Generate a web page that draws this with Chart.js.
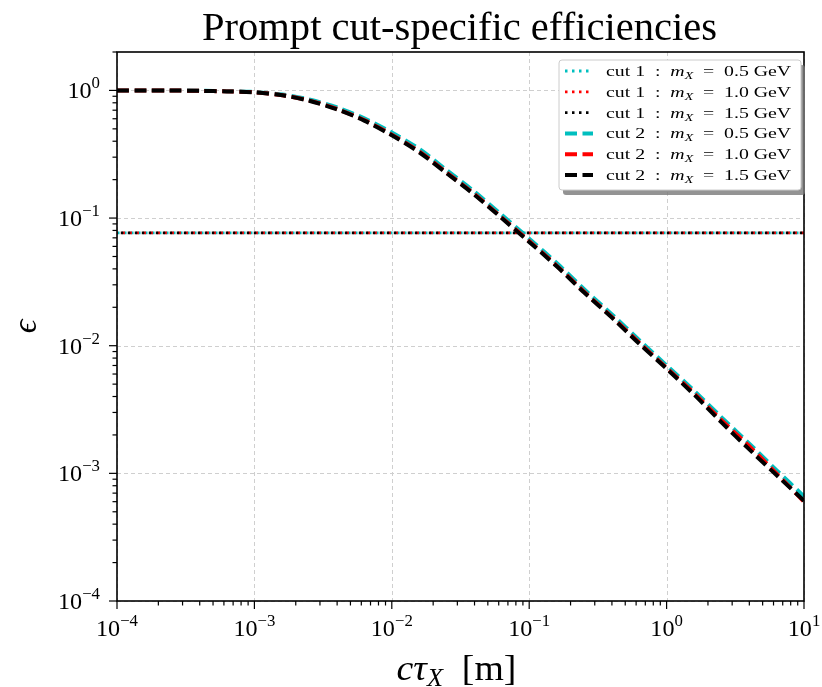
<!DOCTYPE html>
<html>
<head>
<meta charset="utf-8">
<script src="https://cdn.jsdelivr.net/npm/chart.js@4.4.0/dist/chart.umd.min.js"></script>
<style>
  html, body { margin: 0; padding: 0; background: #fff; }
  #wrap { width: 822px; height: 687px; }
</style>
</head>
<body>
<div id="wrap"><canvas id="eff" width="822" height="687"></canvas></div>
<script>
// c*tau_X in metres
const ctau = [1.0e-4, 1.6e-4, 2.5e-4, 4.0e-4, 6.3e-4,
              1.0e-3, 1.6e-3, 2.5e-3, 4.0e-3, 6.3e-3,
              1.0e-2, 1.6e-2, 2.5e-2, 4.0e-2, 6.3e-2,
              0.10, 0.16, 0.25, 0.40, 0.63,
              1.0, 1.6, 2.5, 4.0, 6.3, 10];

// cut 2 efficiencies, one array per mass
const cut2_m05 = [1.0, 1.0, 0.999, 0.995, 0.986,
                  0.972, 0.928, 0.850, 0.735, 0.605,
                  0.468, 0.345, 0.238, 0.161, 0.106,
                  0.069, 0.044, 0.0278, 0.0176, 0.0111,
                  0.0070, 0.0044, 0.00276, 0.00171, 0.00106, 0.00066];
const cut2_m10 = [1.0, 1.0, 0.998, 0.993, 0.983,
                  0.967, 0.918, 0.835, 0.715, 0.585,
                  0.450, 0.330, 0.228, 0.154, 0.101,
                  0.066, 0.042, 0.0266, 0.0168, 0.0106,
                  0.0067, 0.0042, 0.00262, 0.00163, 0.00100, 0.00060];
const cut2_m15 = [1.0, 1.0, 0.998, 0.993, 0.982,
                  0.965, 0.915, 0.830, 0.710, 0.580,
                  0.445, 0.325, 0.225, 0.152, 0.100,
                  0.065, 0.0415, 0.0262, 0.0166, 0.0104,
                  0.0066, 0.0041, 0.00252, 0.00154, 0.00097, 0.00061];

// cut 1 is flat in c*tau
const ctauFlat = [1.0e-4, 1.0e-3, 1.0e-2, 0.10, 1.0, 10];
const cut1_m05 = [0.0765, 0.0765, 0.0765, 0.0765, 0.0765, 0.0765];
const cut1_m10 = [0.0765, 0.0765, 0.0765, 0.0765, 0.0765, 0.0765];
const cut1_m15 = [0.0765, 0.0765, 0.0765, 0.0765, 0.0765, 0.0765];

const xDecades = [-4, -3, -2, -1, 0, 1];
const yDecades = [-4, -3, -2, -1, 0];
const masses = ['0.5', '1.0', '1.5'];

const CYAN = '#00bfbf', RED = '#ff0000', BLACK = '#000000';
const SERIF = "'Liberation Serif', 'DejaVu Serif', serif";
const DOT = [2.5, 4.5];
const DASH = [12, 5.5];

function pts(xs, ys) {
  return xs.map((x, i) => ({ x: x, y: ys[i] }));
}

function dotted(label, color, xs, ys, offset, order) {
  return { label, data: pts(xs, ys), borderColor: color, borderWidth: 2.8,
           borderDash: DOT, borderDashOffset: offset, borderCapStyle: 'butt',
           pointRadius: 0, showLine: true, fill: false, tension: 0, order };
}
function dashed(label, color, xs, ys, order) {
  return { label, data: pts(xs, ys), borderColor: color, borderWidth: 4,
           borderDash: DASH, borderCapStyle: 'butt',
           pointRadius: 0, showLine: true, fill: false, tension: 0.3, order };
}

// draw a row of text runs (for super/subscripts), sx stretches horizontally
function runs(ctx, parts, x, y, align, sx) {
  sx = sx || 1;
  let w = 0;
  parts.forEach(p => { ctx.font = p.f; p.w = ctx.measureText(p.t).width; w += p.w; });
  w *= sx;
  const x0 = align === 'right' ? x - w : align === 'center' ? x - w / 2 : x;
  ctx.save();
  ctx.translate(x0, y);
  ctx.scale(sx, 1);
  ctx.textAlign = 'left';
  ctx.textBaseline = 'alphabetic';
  let cx = 0;
  parts.forEach(p => { ctx.font = p.f; ctx.fillText(p.t, cx, p.dy || 0); cx += p.w; });
  ctx.restore();
}

function power(e) {
  return [{ t: '10', f: '23px ' + SERIF },
          { t: String(e).replace('-', '\u2212'), f: '16px ' + SERIF, dy: -10 }];
}

const decor = {
  id: 'decor',
  beforeDatasetsDraw(chart) {
    const { ctx, chartArea: a, scales } = chart;
    ctx.save();
    ctx.strokeStyle = '#cfcfcf';
    ctx.lineWidth = 1;
    ctx.setLineDash([4, 3]);
    xDecades.forEach(d => {
      const px = Math.round(scales.x.getPixelForValue(Math.pow(10, d))) + 0.5;
      ctx.beginPath(); ctx.moveTo(px, a.top); ctx.lineTo(px, a.bottom); ctx.stroke();
    });
    yDecades.forEach(d => {
      const py = Math.round(scales.y.getPixelForValue(Math.pow(10, d))) + 0.5;
      ctx.beginPath(); ctx.moveTo(a.left, py); ctx.lineTo(a.right, py); ctx.stroke();
    });
    ctx.restore();
  },
  afterDatasetsDraw(chart) {
    const { ctx, chartArea: a, scales } = chart;
    ctx.save();
    ctx.setLineDash([]);
    ctx.strokeStyle = '#000';
    ctx.lineWidth = 1.6;
    ctx.strokeRect(a.left, a.top, a.right - a.left, a.bottom - a.top);

    // ticks
    ctx.lineWidth = 1.2;
    xDecades.forEach(d => {
      for (let k = 1; k <= 9; k++) {
        const v = k * Math.pow(10, d);
        if (v > 10 * 1.0001) continue;
        const px = scales.x.getPixelForValue(v);
        const len = k === 1 ? 8 : 4.5;
        ctx.beginPath(); ctx.moveTo(px, a.bottom); ctx.lineTo(px, a.bottom + len); ctx.stroke();
      }
    });
    yDecades.forEach(d => {
      for (let k = 1; k <= 9; k++) {
        const v = k * Math.pow(10, d);
        if (v > 2.0001) continue;
        const py = scales.y.getPixelForValue(v);
        const len = k === 1 ? 8 : 4.5;
        ctx.beginPath(); ctx.moveTo(a.left, py); ctx.lineTo(a.left - len, py); ctx.stroke();
      }
    });

    // tick labels
    ctx.fillStyle = '#000';
    xDecades.forEach(d => {
      runs(ctx, power(d), scales.x.getPixelForValue(Math.pow(10, d)), a.bottom + 35, 'center', 1.05);
    });
    yDecades.forEach(d => {
      runs(ctx, power(d), a.left - 17, scales.y.getPixelForValue(Math.pow(10, d)) + 8, 'right', 1.05);
    });

    // axis titles
    runs(ctx, [{ t: 'c\u03c4', f: 'italic 36px ' + SERIF },
               { t: 'X', f: 'italic 25px ' + SERIF, dy: 6 },
               { t: '  [m]', f: '36px ' + SERIF }], (a.left + a.right) / 2 - 4, 680, 'center', 1.05);
    ctx.save();
    ctx.translate(36, (a.top + a.bottom) / 2);
    ctx.rotate(-Math.PI / 2);
    runs(ctx, [{ t: '\u03f5', f: 'italic 34px ' + SERIF }], 0, 0, 'center');
    ctx.restore();

    // title
    runs(ctx, [{ t: 'Prompt cut-specific efficiencies', f: '39px ' + SERIF }],
         (a.left + a.right) / 2 - 1, 40, 'center', 1.04);

    // legend
    const lx = 559, ly = 60, lw = 242, lh = 130;
    ctx.fillStyle = 'rgba(120,120,120,0.8)';
    ctx.beginPath(); ctx.roundRect(lx + 4, ly + 5, lw, lh, 3); ctx.fill();
    ctx.fillStyle = '#fff';
    ctx.strokeStyle = '#cccccc';
    ctx.lineWidth = 1;
    ctx.beginPath(); ctx.roundRect(lx, ly, lw, lh, 3); ctx.fill(); ctx.stroke();

    chart.data.datasets.forEach((ds, i) => {
      const yy = ly + 11 + i * 20.8;
      ctx.strokeStyle = ds.borderColor;
      ctx.lineWidth = ds.borderWidth;
      ctx.setLineDash(ds.borderDash);
      ctx.lineDashOffset = 0;
      ctx.beginPath(); ctx.moveTo(lx + 6, yy); ctx.lineTo(lx + 34, yy); ctx.stroke();
      ctx.setLineDash([]);
      ctx.fillStyle = '#000';
      const cut = i < 3 ? '1' : '2';
      runs(ctx, [{ t: 'cut ' + cut + '  :  ', f: '15px ' + SERIF },
                 { t: 'm', f: 'italic 15px ' + SERIF },
                 { t: 'X', f: 'italic 10.5px ' + SERIF, dy: 3 },
                 { t: '  =  ' + masses[i % 3] + ' GeV', f: '15px ' + SERIF }],
           lx + 47, yy + 5, 'left', 1.32);
    });
    ctx.restore();
  }
};

// lower order is drawn on top: black cut 2 last, as in the reference
new Chart(document.getElementById('eff'), {
  type: 'scatter',
  data: {
    datasets: [
      dotted('cut 1 : m_X = 0.5 GeV', CYAN, ctauFlat, cut1_m05, 0, 6),
      dotted('cut 1 : m_X = 1.0 GeV', RED, ctauFlat, cut1_m10, 1.6, 5),
      dotted('cut 1 : m_X = 1.5 GeV', BLACK, ctauFlat, cut1_m15, 3.2, 4),
      dashed('cut 2 : m_X = 0.5 GeV', CYAN, ctau, cut2_m05, 3),
      dashed('cut 2 : m_X = 1.0 GeV', RED, ctau, cut2_m10, 2),
      dashed('cut 2 : m_X = 1.5 GeV', BLACK, ctau, cut2_m15, 1)
    ]
  },
  options: {
    responsive: false,
    animation: false,
    devicePixelRatio: 1,
    layout: { padding: { left: 117, right: 18, top: 52, bottom: 86 } },
    plugins: { legend: { display: false }, tooltip: { enabled: false }, title: { display: false } },
    scales: {
      x: { type: 'logarithmic', min: 1e-4, max: 10, display: false },
      y: { type: 'logarithmic', min: 1e-4, max: 2, display: false }
    }
  },
  plugins: [decor]
});
</script>
</body>
</html>
